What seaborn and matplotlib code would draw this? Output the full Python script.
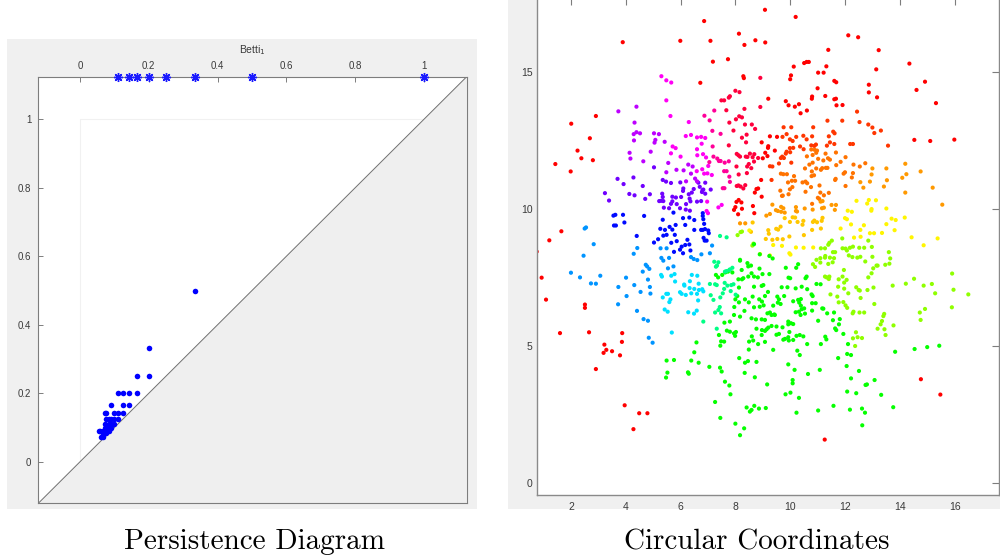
import colorsys

import matplotlib
matplotlib.use("Agg")
import matplotlib.pyplot as plt
from matplotlib.patches import Rectangle
import pandas as pd
import seaborn as sns

# ---------------- persistence diagram (dimension 1) ----------------
births = [0.333, 0.200, 0.167, 0.200,
          0.111, 0.125, 0.143, 0.167,
          0.0909, 0.125, 0.143,
          0.0714, 0.0769, 0.100, 0.111, 0.125,
          0.0769, 0.0833, 0.0909, 0.100, 0.111,
          0.0714, 0.0833, 0.0909, 0.100,
          0.0714, 0.0769, 0.0833, 0.0909,
          0.0556, 0.0588, 0.0667, 0.0714, 0.0769, 0.0833,
          0.0667, 0.0714, 0.0769,
          0.0625, 0.0667]
deaths = [0.500, 0.333, 0.250, 0.250,
          0.200, 0.200, 0.200, 0.200,
          0.167, 0.167, 0.167,
          0.143, 0.143, 0.143, 0.143, 0.143,
          0.125, 0.125, 0.125, 0.125, 0.125,
          0.111, 0.111, 0.111, 0.111,
          0.100, 0.100, 0.100, 0.100,
          0.0909, 0.0909, 0.0909, 0.0909, 0.0909, 0.0909,
          0.0833, 0.0833, 0.0833,
          0.0714, 0.0714]
# classes that never die
inf_births = [0.111, 0.143, 0.167, 0.200, 0.250, 0.333, 0.500, 1.000]
pd_ticks = [0, 0.2, 0.4, 0.6, 0.8, 1]
pd_ticklabels = ["0", "0.2", "0.4", "0.6", "0.8", "1"]

# ---------------- circular coordinates, grouped by coordinate value ----------------
red_pts = [(3.89, 16.07), (6.86, 16.84), (5.99, 16.12), (7.09, 16.12), (7.18, 15.36), (6.72, 14.59),
           (8.13, 16.38), (8.33, 15.97), (7.73, 15.45), (8.29, 14.83), (8.31, 14.76),
           (2.91, 13.38), (2.01, 13.10), (2.69, 12.57), (2.24, 12.12), (2.38, 11.84), (2.80, 11.77),
           (1.43, 11.63), (1.99, 11.36), (1.65, 9.18), (1.21, 8.85), (0.75, 8.44), (0.93, 7.49),
           (7.95, 9.96), (8.00, 10.06), (8.04, 10.25), (8.12, 10.32), (8.22, 10.23), (8.10, 9.80), (8.24, 10.00),
           (9.08, 17.25), (10.20, 16.99), (8.73, 16.14), (9.09, 16.06), (12.12, 16.32), (12.48, 16.25),
           (11.39, 15.79), (13.23, 15.78), (14.35, 15.29), (10.13, 15.18), (10.51, 15.31), (10.60, 15.35),
           (10.68, 15.35), (11.32, 15.19), (11.02, 14.96), (11.22, 14.96), (10.03, 14.86), (10.00, 14.72),
           (13.14, 15.08), (14.92, 14.63), (14.61, 14.33), (12.87, 14.52), (12.87, 14.24), (13.17, 14.06),
           (11.61, 14.66), (11.68, 14.61), (11.00, 14.39), (10.80, 14.09), (10.79, 14.01), (11.28, 14.11),
           (11.61, 13.99), (11.67, 14.01), (9.20, 14.01), (9.84, 13.92), (9.94, 13.77), (10.17, 13.72),
           (10.32, 13.81), (10.38, 13.48), (10.61, 13.58), (11.69, 13.77), (11.91, 13.78), (15.32, 13.85),
           (14.53, 12.51), (15.11, 12.47), (15.99, 12.52),
           (8.94, 11.05), (8.77, 10.72), (8.83, 10.74), (8.71, 10.59), (8.96, 10.44), (8.64, 10.10), (8.69, 9.84),
           (8.96, 12.42), (9.20, 12.28), (9.19, 12.22), (9.09, 12.04), (9.00, 11.84), (9.17, 11.92),
           (9.44, 12.12), (9.26, 12.64), (9.52, 12.62),
           (1.09, 6.69), (1.60, 5.47), (2.51, 6.51), (2.51, 6.39), (2.66, 5.50), (3.22, 5.05), (3.29, 4.86),
           (3.19, 4.75), (3.50, 4.81), (3.79, 4.66), (3.86, 5.15), (3.87, 5.47), (2.91, 4.16), (3.96, 2.84),
           (4.49, 2.55), (4.79, 2.55), (4.28, 1.97), (14.77, 3.79), (15.48, 3.23), (11.26, 1.59)]

redorange_pts = [(9.76, 12.97), (10.04, 12.97), (10.84, 12.97), (9.72, 12.62), (9.87, 12.72), (9.99, 12.53),
                 (10.09, 12.47), (10.22, 12.62), (10.48, 12.66), (10.60, 12.53), (10.80, 12.64), (10.77, 12.31),
                 (10.94, 12.34), (10.88, 12.29), (11.41, 12.64), (11.57, 12.81), (11.62, 12.75), (11.45, 12.42),
                 (11.61, 12.36), (11.34, 12.30), (9.99, 12.21), (10.11, 12.22), (9.87, 12.08), (9.84, 12.01),
                 (9.71, 11.90), (9.66, 11.85), (9.77, 11.85), (10.00, 12.06), (10.36, 12.27), (10.49, 12.17),
                 (9.26, 11.55), (9.35, 11.54), (9.32, 11.05), (10.04, 11.68), (9.59, 11.65),
                 (12.44, 13.54), (12.53, 13.16), (12.85, 13.07), (13.00, 12.96), (13.07, 12.76), (13.31, 12.85),
                 (13.57, 12.30), (11.36, 13.21), (11.90, 13.21), (12.19, 12.36), (12.29, 12.36)]

orange_pts = [(10.61, 11.91), (10.77, 12.16), (10.82, 11.96), (10.89, 12.15), (10.95, 12.04), (10.98, 12.12),
              (11.02, 11.82), (11.29, 12.01), (11.45, 11.79), (11.38, 11.84), (11.67, 12.05), (12.02, 11.88),
              (11.84, 11.71), (11.68, 11.59), (11.21, 11.76), (11.17, 11.48), (11.30, 11.49), (10.95, 11.47),
              (10.82, 11.68), (10.70, 11.61), (10.54, 11.47), (9.66, 11.28), (9.88, 11.26), (9.75, 11.26),
              (9.92, 10.96), (10.06, 11.02), (10.18, 11.02), (10.14, 11.19), (10.45, 10.96), (10.62, 10.93),
              (10.56, 10.99), (10.79, 11.36), (10.87, 11.22), (10.78, 11.19), (11.12, 11.42), (11.36, 11.49),
              (12.74, 11.66), (12.31, 11.61), (12.54, 11.54), (12.29, 11.30), (12.25, 11.14), (12.00, 11.33),
              (11.95, 11.28), (11.66, 11.09), (11.64, 11.05), (12.02, 10.83),
              (9.64, 10.66), (9.73, 10.48), (9.70, 10.47), (9.99, 10.71), (10.08, 10.79), (9.94, 10.53),
              (10.56, 10.62), (10.76, 10.79), (11.07, 10.85), (11.10, 10.59), (11.41, 10.58), (11.23, 10.49),
              (11.01, 10.40), (11.06, 10.36), (10.80, 10.18)]

lightorange_pts = [(13.00, 11.47), (12.97, 11.25), (13.51, 11.47), (13.53, 11.04), (13.42, 10.81), (12.91, 10.99),
                   (12.56, 10.97), (14.20, 11.64), (14.24, 11.26), (14.09, 11.13), (14.76, 11.36), (15.20, 10.77),
                   (14.20, 10.59), (15.55, 10.15), (12.67, 10.77),
                   (11.18, 10.28), (11.11, 10.26), (11.16, 10.02), (11.23, 10.04), (11.51, 10.14), (11.67, 10.14),
                   (11.63, 9.96), (9.35, 10.15), (9.48, 9.95), (9.55, 9.92), (9.67, 10.07), (9.67, 9.89),
                   (9.75, 10.02), (9.80, 9.86), (9.13, 9.75), (9.26, 9.81), (10.21, 10.06), (10.21, 9.92),
                   (10.25, 9.90), (10.53, 10.01), (10.82, 9.97), (8.17, 9.47), (8.36, 9.47)]

amber_pts = [(9.80, 9.66), (9.99, 9.52), (10.18, 9.68), (10.09, 9.69), (10.27, 9.52), (10.48, 9.56),
             (10.45, 9.42), (10.83, 9.52), (10.88, 9.57), (10.98, 9.51), (11.18, 9.67), (11.15, 9.56),
             (10.80, 9.23), (9.49, 9.27), (9.56, 9.24), (9.65, 9.35), (9.20, 9.22), (9.22, 9.09),
             (9.11, 8.90), (9.35, 8.87), (9.53, 8.90), (9.73, 8.89), (9.97, 8.99), (10.50, 9.04),
             (11.12, 9.28), (8.63, 9.50), (8.57, 9.16)]

yellow_pts = [(12.42, 10.29), (12.87, 10.32), (13.13, 10.31), (12.81, 10.19), (12.97, 9.99), (12.96, 9.93),
              (12.10, 9.93), (12.25, 9.89), (12.00, 9.66), (12.07, 9.62), (12.22, 9.43), (11.84, 9.28),
              (12.56, 9.23), (12.69, 9.40), (12.91, 9.11), (13.06, 9.11), (13.35, 9.12), (13.51, 9.44),
              (13.70, 9.64), (13.85, 9.59), (14.18, 9.68), (13.81, 9.22), (13.51, 10.01), (14.43, 8.96),
              (14.87, 8.67), (15.38, 8.92), (12.33, 8.95), (12.57, 8.98), (8.51, 9.21),
              (9.38, 8.68), (9.70, 8.65), (10.21, 8.59), (10.49, 8.58), (10.84, 8.59), (9.97, 8.38),
              (10.01, 8.33), (8.90, 8.35), (9.26, 8.30)]

lime_pts = [(8.08, 9.04), (8.19, 9.15), (8.24, 9.17), (8.66, 8.73), (8.62, 8.66),
            (11.43, 8.76), (11.52, 8.84), (11.39, 8.69), (11.27, 8.56), (11.56, 8.42), (11.64, 8.42),
            (11.12, 8.56), (11.10, 8.20), (10.96, 8.14), (11.10, 8.04), (10.91, 7.88), (10.83, 7.98),
            (11.27, 8.22), (11.45, 8.22), (11.60, 8.20), (11.55, 8.05), (11.28, 8.28), (11.39, 7.99),
            (11.90, 8.92), (11.91, 8.56), (12.02, 8.55), (12.07, 8.48), (12.18, 8.58), (12.29, 8.62),
            (12.14, 8.30), (12.27, 8.24), (12.52, 8.58), (12.70, 8.58), (12.45, 8.22), (12.56, 8.25),
            (12.85, 8.84), (12.98, 8.61), (12.74, 8.08), (13.00, 8.25), (13.15, 7.93), (13.03, 7.83),
            (13.19, 7.93), (13.60, 8.42), (13.65, 8.19), (13.62, 8.00), (13.47, 7.96), (11.96, 7.77),
            (11.27, 7.53), (11.33, 7.50), (11.43, 7.53), (11.41, 7.44), (11.91, 7.53), (12.06, 7.41),
            (11.97, 7.31), (11.77, 7.43), (11.47, 6.88), (11.72, 6.80), (11.77, 6.59), (11.75, 7.16),
            (11.97, 7.09), (11.94, 6.60), (12.02, 6.48), (12.08, 6.39), (12.12, 6.92), (12.41, 7.14),
            (12.50, 7.04), (12.57, 6.75), (12.54, 7.02), (12.82, 7.04), (12.85, 7.50), (12.97, 7.65),
            (13.04, 7.13), (13.07, 6.53), (12.28, 6.19), (12.31, 6.25), (12.53, 6.22), (12.70, 6.22),
            (13.74, 7.20), (14.22, 7.27), (14.52, 7.45), (14.87, 7.20), (15.17, 7.26), (15.29, 6.92),
            (15.91, 7.64), (15.96, 7.05), (16.50, 6.88), (15.90, 6.41), (14.73, 6.22), (14.76, 5.95),
            (14.92, 6.35), (13.19, 5.63), (13.30, 5.79), (13.40, 6.09), (13.43, 6.17), (13.44, 5.61),
            (13.48, 5.40), (13.35, 5.91), (13.77, 5.75), (12.40, 5.50), (12.29, 5.28), (12.46, 5.32),
            (12.37, 5.00), (12.62, 5.29)]

green_pts = [(8.68, 8.71), (8.89, 8.34), (9.24, 8.28), (9.36, 8.19), (8.57, 7.93), (8.88, 7.82),
             (9.84, 7.85), (10.22, 7.85), (10.29, 7.98), (8.17, 8.14), (8.44, 8.02), (8.47, 7.90),
             (8.17, 8.11), (8.23, 7.77), (8.29, 7.47), (8.47, 7.53), (8.59, 7.65),
             (8.68, 7.53), (8.82, 7.50), (9.24, 7.62), (8.99, 7.62), (10.60, 7.53), (10.56, 7.47),
             (9.94, 7.49), (10.00, 7.47), (10.42, 7.16), (8.68, 7.16), (8.63, 6.80), (8.96, 7.19),
             (9.02, 7.22), (9.19, 6.97), (8.87, 6.70), (8.97, 6.62), (9.08, 6.82), (9.03, 6.48),
             (9.17, 6.19), (9.38, 6.47), (9.42, 6.15), (9.26, 6.22), (9.32, 6.13), (9.44, 6.13),
             (9.53, 6.80), (9.69, 7.14), (9.78, 6.82), (9.59, 6.70), (9.55, 6.58), (9.65, 6.53),
             (9.90, 7.14), (10.20, 7.10), (10.62, 7.07), (10.78, 6.88), (10.96, 7.26), (11.11, 7.25),
             (10.82, 6.82), (10.11, 6.63), (10.29, 6.68), (10.39, 6.71), (10.33, 6.58), (10.39, 6.47),
             (10.51, 6.37), (10.42, 6.34), (10.32, 6.25), (10.54, 6.18), (10.20, 6.23), (10.38, 6.13),
             (9.93, 5.89), (10.03, 5.83), (10.11, 5.80), (10.80, 6.56), (10.93, 6.56), (10.80, 6.29),
             (11.02, 5.92), (11.17, 6.37), (11.21, 6.36), (11.35, 6.19), (11.60, 6.22), (11.56, 5.94),
             (11.81, 5.98), (11.78, 5.79), (11.64, 5.64), (11.68, 5.58), (11.94, 5.44), (11.28, 5.34),
             (11.32, 5.24), (11.12, 5.07), (12.11, 5.07), (12.08, 4.71), (12.22, 4.67), (12.06, 4.27),
             (11.75, 4.56), (12.51, 4.09), (12.22, 3.82), (12.08, 3.34), (12.41, 3.28), (12.75, 3.58),
             (12.80, 3.60), (13.08, 3.76), (13.32, 3.22), (12.62, 2.72), (12.73, 2.57), (12.63, 2.11),
             (12.18, 2.68), (11.58, 2.82), (11.02, 2.65), (13.76, 2.77), (13.83, 4.79), (14.54, 4.89),
             (15.00, 4.96), (15.44, 5.01), (9.11, 2.74), (8.86, 2.72), (8.69, 2.82), (8.53, 2.61),
             (8.77, 4.42), (8.71, 3.86), (9.16, 3.60), (9.83, 3.24), (10.01, 3.30), (10.32, 3.11),
             (10.23, 2.57), (10.16, 4.13), (10.09, 3.76), (10.09, 3.64), (9.93, 4.33), (10.35, 4.67),
             (10.26, 4.83), (10.65, 3.98), (11.08, 4.13), (9.50, 5.41), (9.59, 5.44), (9.75, 5.23),
             (9.81, 5.26), (9.93, 5.32), (9.95, 5.20), (10.11, 5.22), (9.97, 5.51), (10.35, 5.40),
             (10.23, 5.37), (10.48, 5.35), (10.62, 5.07), (8.60, 5.35), (8.65, 5.20), (8.83, 5.07),
             (9.08, 5.15), (8.96, 5.40), (9.38, 4.86), (8.77, 5.63), (8.97, 5.58), (9.08, 5.55),
             (9.14, 5.61), (9.20, 5.67), (9.32, 5.73), (9.50, 5.71), (9.72, 5.68), (9.93, 5.79),
             (8.96, 5.97), (8.75, 5.97), (9.08, 5.95), (8.59, 6.01), (8.68, 6.41), (8.89, 6.43), (8.59, 2.67),
             (7.29, 7.59), (7.37, 7.50), (7.52, 7.59), (7.63, 7.68), (7.73, 7.71), (7.89, 7.68),
             (8.11, 7.43), (8.24, 7.43), (8.13, 7.13), (8.07, 6.82), (8.00, 6.70), (8.13, 6.59),
             (7.96, 6.42), (8.35, 6.70), (8.33, 6.28), (8.49, 6.59), (8.17, 6.07), (7.95, 6.13),
             (7.80, 5.89), (7.60, 5.85), (7.69, 5.56), (7.80, 5.52), (7.95, 5.46), (8.02, 5.51),
             (7.40, 5.40), (7.99, 5.37), (7.59, 5.16), (7.48, 5.17), (7.45, 5.01), (6.58, 5.13),
             (6.50, 4.77), (6.39, 4.47), (6.66, 4.39), (6.27, 4.04), (6.30, 3.99), (5.49, 4.47),
             (5.76, 4.49), (5.52, 4.03), (5.47, 3.85), (7.05, 4.24), (7.44, 4.21), (7.50, 4.07),
             (7.26, 2.96), (7.45, 2.38), (7.62, 3.70), (7.78, 3.56), (7.82, 3.24), (8.00, 2.17),
             (8.17, 1.75), (8.32, 2.00), (8.41, 2.76), (8.34, 4.02), (8.35, 4.39), (8.46, 4.45),
             (8.14, 4.56), (8.49, 4.87), (8.50, 5.16)]

spring_pts = [(7.44, 9.01), (7.68, 8.96), (7.23, 8.07), (7.33, 7.93), (7.38, 8.05), (7.89, 7.85), (7.78, 7.77),
              (7.29, 7.89), (7.62, 7.71), (7.68, 7.73), (7.80, 7.79),
              (7.07, 7.26), (7.26, 7.25), (7.32, 7.22), (7.10, 6.85), (7.20, 6.68), (7.43, 6.42),
              (7.38, 6.31), (7.48, 6.19), (6.83, 5.89), (7.26, 6.22), (7.32, 5.63), (7.59, 7.08),
              (7.54, 6.92), (7.45, 6.77), (7.61, 7.30), (7.71, 7.20), (7.85, 7.22), (7.93, 7.25),
              (7.83, 7.00), (8.01, 6.87)]

lightcyan_pts = [(5.29, 7.59), (5.32, 7.53), (5.66, 7.56), (5.78, 7.62), (5.80, 7.35), (5.35, 6.77),
                 (5.48, 6.90), (5.54, 6.90), (5.63, 6.70), (5.59, 6.60), (5.42, 6.33), (5.53, 6.25),
                 (5.68, 5.49), (5.98, 6.96), (6.04, 6.90), (6.13, 7.24), (6.14, 7.20), (6.19, 6.86),
                 (6.34, 7.36), (6.41, 7.59), (6.61, 7.56), (6.33, 7.11), (6.50, 7.08), (6.39, 6.92),
                 (6.60, 6.90), (6.67, 7.04), (6.79, 7.07), (6.83, 6.99), (6.66, 7.27), (6.28, 6.23),
                 (6.49, 6.18), (6.59, 6.29), (6.64, 6.66)]

azure_pts = [(2.00, 7.67), (2.33, 7.50), (2.73, 7.28), (2.91, 7.27), (3.07, 7.56), (4.01, 7.49),
             (3.73, 7.15), (4.03, 6.82), (3.72, 6.52), (4.31, 7.22), (4.62, 7.71), (4.81, 7.42),
             (4.54, 6.97), (4.88, 7.15), (4.90, 6.91), (4.41, 6.28), (4.65, 5.98), (4.81, 5.92),
             (4.84, 5.30), (4.98, 5.12),
             (2.50, 9.28), (2.55, 9.32), (2.83, 8.71), (2.46, 8.29), (4.42, 8.57), (4.29, 8.36),
             (4.73, 7.96), (4.78, 7.90), (4.86, 7.81), (5.27, 8.56), (5.49, 8.56), (5.58, 8.21),
             (5.30, 8.21), (5.37, 8.11), (5.54, 7.83), (5.74, 7.90), (6.48, 8.17), (6.61, 8.13),
             (6.76, 8.34), (6.38, 8.24), (7.15, 8.66), (7.07, 8.38)]

blue_pts = [(3.55, 9.75), (3.62, 9.78), (3.57, 9.39), (3.64, 9.39), (3.90, 9.78), (3.95, 9.50),
            (4.67, 9.74), (4.40, 9.01), (5.03, 8.77), (5.18, 8.89), (5.35, 9.60), (5.43, 9.23),
            (5.26, 9.27), (5.37, 9.02), (5.49, 9.05), (5.60, 9.34), (5.70, 9.24), (5.79, 9.05),
            (5.82, 9.41), (5.66, 8.76), (5.86, 8.82), (5.76, 8.43), (5.98, 8.51), (6.09, 8.38),
            (6.04, 8.62), (6.17, 8.68), (6.25, 8.87), (6.32, 8.70), (6.36, 8.48), (6.75, 9.23),
            (6.81, 9.23), (6.89, 9.26), (6.84, 8.94), (6.88, 8.84), (6.95, 8.84), (6.83, 9.62),
            (6.86, 9.45), (7.01, 9.21), (7.03, 9.11), (6.81, 9.84), (6.81, 9.74), (6.32, 9.68),
            (6.09, 9.66), (6.17, 9.41), (6.50, 9.59), (6.50, 9.23), (5.74, 9.86)]

violet_pts = [(3.24, 10.57), (3.39, 10.30), (3.70, 11.09), (3.92, 10.90), (4.28, 11.14), (4.62, 10.83),
              (4.13, 10.54), (4.32, 10.49), (4.71, 10.36), (4.88, 10.53), (5.33, 10.55), (5.35, 10.43),
              (5.29, 10.29), (5.37, 10.28), (5.22, 10.28), (5.70, 10.44), (5.70, 10.27), (5.65, 10.18),
              (5.39, 10.04), (5.58, 10.02), (5.99, 10.96), (6.10, 10.74), (6.09, 10.65), (5.83, 10.41),
              (6.02, 10.43), (6.33, 10.37), (6.36, 10.27), (5.86, 10.17), (6.20, 10.17), (5.98, 10.02),
              (6.19, 9.97), (6.34, 9.93), (5.35, 11.05), (5.47, 10.99), (5.65, 10.94), (5.03, 11.51),
              (6.48, 10.72), (6.41, 10.59), (6.30, 10.53), (6.60, 10.26), (6.75, 10.28), (6.78, 10.61),
              (6.83, 10.70), (6.90, 10.55), (7.10, 10.70), (6.65, 10.95), (6.70, 10.80), (6.80, 10.68),
              (6.90, 10.95)]

purple_pts = [(3.73, 13.55), (4.39, 13.72), (4.32, 13.14), (4.29, 12.72), (4.39, 12.79), (4.52, 12.75),
              (4.30, 12.49), (4.14, 12.04), (4.17, 11.83), (4.64, 11.73), (4.91, 12.08), (5.03, 12.75),
              (5.21, 12.72), (5.08, 12.51), (5.05, 12.41), (5.42, 12.44), (5.55, 11.67), (5.48, 11.33),
              (5.85, 11.42), (6.20, 11.00), (6.38, 11.28), (6.28, 11.61), (6.44, 11.54), (6.11, 11.40),
              (6.53, 11.10), (6.60, 11.00)]

magenta_pts = [(5.30, 14.83), (5.48, 14.68), (5.66, 14.60), (5.48, 13.95), (5.63, 13.38), (5.71, 12.27),
               (5.82, 12.21), (5.65, 12.02), (6.00, 11.90), (6.59, 11.37), (6.79, 11.44), (6.86, 11.28),
               (6.98, 11.29), (7.01, 11.56), (7.14, 11.23), (6.97, 10.26), (6.95, 9.92), (7.00, 9.84),
               (7.38, 10.05), (7.50, 10.14), (6.60, 12.60), (6.75, 12.62), (6.90, 12.58), (6.77, 12.37),
               (6.60, 12.17), (6.30, 13.16), (6.19, 12.65), (6.38, 12.69), (6.61, 11.95), (6.82, 11.99),
               (6.93, 11.87)]

pink_pts = [(6.87, 13.39), (7.06, 13.22), (7.23, 13.58), (7.16, 12.84), (7.46, 12.73), (7.17, 12.27),
            (7.34, 11.83), (7.40, 11.74), (7.46, 11.74), (7.61, 11.68), (7.76, 11.73), (7.68, 11.37),
            (7.59, 11.37), (7.78, 11.17), (7.54, 10.75), (7.60, 10.75), (7.80, 10.98), (7.20, 11.90),
            (7.05, 11.70)]

rose_pts = [(7.49, 13.95), (7.59, 13.95), (7.67, 13.59), (7.76, 14.05), (7.78, 13.14), (7.76, 12.31),
            (8.02, 13.26), (8.14, 13.37), (8.24, 13.33), (8.33, 13.64), (8.35, 13.07), (8.41, 12.70),
            (8.24, 12.59), (8.39, 12.42), (7.93, 12.85), (8.05, 12.00), (8.11, 11.95), (8.17, 11.90),
            (8.04, 11.54), (8.12, 11.25), (8.11, 10.85), (8.19, 10.81), (8.29, 10.74), (8.05, 10.83),
            (8.38, 11.90), (8.44, 11.89), (8.43, 11.54), (8.49, 11.63), (8.42, 11.30), (8.36, 10.86),
            (8.91, 14.77), (8.91, 13.71), (8.60, 13.07), (8.72, 12.91), (8.53, 12.01), (8.69, 11.99),
            (8.63, 11.88), (8.83, 11.85), (8.68, 11.72), (8.58, 11.48), (7.80, 14.10), (8.00, 14.30),
            (8.15, 14.25)]

# circular coordinate value (fraction of a turn) of each group
group_points = {
    "red": red_pts, "redorange": redorange_pts, "orange": orange_pts, "lightorange": lightorange_pts,
    "amber": amber_pts, "yellow": yellow_pts, "lime": lime_pts, "green": green_pts,
    "spring": spring_pts, "lightcyan": lightcyan_pts, "azure": azure_pts, "blue": blue_pts,
    "violet": violet_pts, "purple": purple_pts, "magenta": magenta_pts, "pink": pink_pts,
    "rose": rose_pts,
}
group_angle = {
    "red": 0.0, "redorange": 0.035, "orange": 0.075, "lightorange": 0.10, "amber": 0.13,
    "yellow": 0.16, "lime": 0.24, "green": 0.33, "spring": 0.42, "lightcyan": 0.52,
    "azure": 0.57, "blue": 0.66, "violet": 0.74, "purple": 0.79, "magenta": 0.84,
    "pink": 0.90, "rose": 0.96,
}
cc_xticks = [2, 4, 6, 8, 10, 12, 14, 16]
cc_yticks = [0, 5, 10, 15]

rows = [(x, y, name) for name, pts in group_points.items() for x, y in pts]
cc_df = pd.DataFrame(rows, columns=["x", "y", "group"])
palette = {name: colorsys.hsv_to_rgb(h % 1.0, 1.0, 1.0) for name, h in group_angle.items()}

# ---------------- figure ----------------
sns.set_style("white")
plt.rcParams["font.family"] = ["Liberation Sans", "DejaVu Sans"]

W, H = 1000, 557
fig = plt.figure(figsize=(W / 100, H / 100), dpi=100)
fig.patch.set_facecolor("white")

# grey window panels behind each plot
fig.patches.append(Rectangle((7 / W, 1 - 509 / H), 470 / W, 470 / H, transform=fig.transFigure,
                             facecolor="#f0f0f0", edgecolor="none", zorder=-10))
fig.patches.append(Rectangle((508 / W, 1 - 509 / H), 492 / W, 509 / H, transform=fig.transFigure,
                             facecolor="#f0f0f0", edgecolor="none", zorder=-10))

spine_col = "#7d7d7d"
label_col = "#3a3a3a"

# ---- left: persistence diagram ----
ax1 = fig.add_axes([38.3 / W, 1 - 503.3 / H, 428.4 / W, 426.6 / H])
lo, hi = -0.121, 1.124
ax1.set_xlim(lo, hi)
ax1.set_ylim(lo, hi)
ax1.set_facecolor("white")
ax1.fill([lo, hi, hi], [lo, hi, lo], color="#efefef", lw=0, zorder=0)
ax1.plot([lo, hi], [lo, hi], color="#707070", lw=0.7, zorder=1)
ax1.plot([0, 0], [0, 1], color="#f1f1f1", lw=0.8, zorder=0.5)
ax1.plot([0, 1], [1, 1], color="#f1f1f1", lw=0.8, zorder=0.5)
sns.scatterplot(x=births, y=deaths, color="#0000ff", s=16, linewidth=0, ax=ax1, zorder=3)
ax1.plot(inf_births, [hi] * len(inf_births), ls="none", marker=(8, 2, 0), ms=6.5, mew=1.0,
         color="#1a1aff", clip_on=False, zorder=4)
ax1.set_xticks(pd_ticks)
ax1.set_xticklabels(pd_ticklabels)
ax1.set_yticks(pd_ticks)
ax1.set_yticklabels(pd_ticklabels)
ax1.xaxis.tick_top()
ax1.xaxis.set_label_position("top")
ax1.set_xlabel("Betti$_1$", fontsize=7.5, color=label_col, labelpad=6)
ax1.tick_params(axis="x", which="both", top=True, bottom=False, labeltop=True, labelbottom=False,
                direction="in", length=3.5, width=0.7, pad=4, labelsize=7, colors=spine_col,
                labelcolor=label_col)
ax1.tick_params(axis="y", which="both", left=True, right=False, direction="in", length=3.5,
                width=0.7, pad=5, labelsize=7, colors=spine_col, labelcolor=label_col)
for sp in ax1.spines.values():
    sp.set_color(spine_col)
    sp.set_linewidth(0.8)
    sp.set_visible(True)

# ---- right: circular coordinates ----
ax2 = fig.add_axes([536.7 / W, 1 - 495.3 / H, 462.3 / W, 497.3 / H])
ax2.set_facecolor("white")
sns.scatterplot(data=cc_df, x="x", y="y", hue="group", palette=palette, s=9, linewidth=0,
                legend=False, ax=ax2)
ax2.set_xlim(0.75, 17.62)
ax2.set_ylim(-0.44, 17.68)
ax2.set_xticks(cc_xticks)
ax2.set_xticklabels([str(t) for t in cc_xticks])
ax2.set_yticks(cc_yticks)
ax2.set_yticklabels([str(t) for t in cc_yticks])
ax2.set_xlabel("")
ax2.set_ylabel("")
ax2.tick_params(axis="both", which="both", direction="in", top=True, right=True, length=5,
                width=0.8, labelsize=7.5, colors=spine_col, labelcolor=label_col)
ax2.tick_params(axis="x", pad=5)
ax2.tick_params(axis="y", pad=3)
for sp in ax2.spines.values():
    sp.set_color("#8a8a8a")
    sp.set_linewidth(1.0)
    sp.set_visible(True)

# ---- panel captions ----
fig.text(255 / W, (H - 549) / H, "Persistence Diagram", ha="center", va="baseline",
         fontname="cmr10", fontsize=21, color="black")
fig.text(757 / W, (H - 549) / H, "Circular Coordinates", ha="center", va="baseline",
         fontname="cmr10", fontsize=21, color="black")

fig.savefig("out.png", dpi=100, facecolor="white")
